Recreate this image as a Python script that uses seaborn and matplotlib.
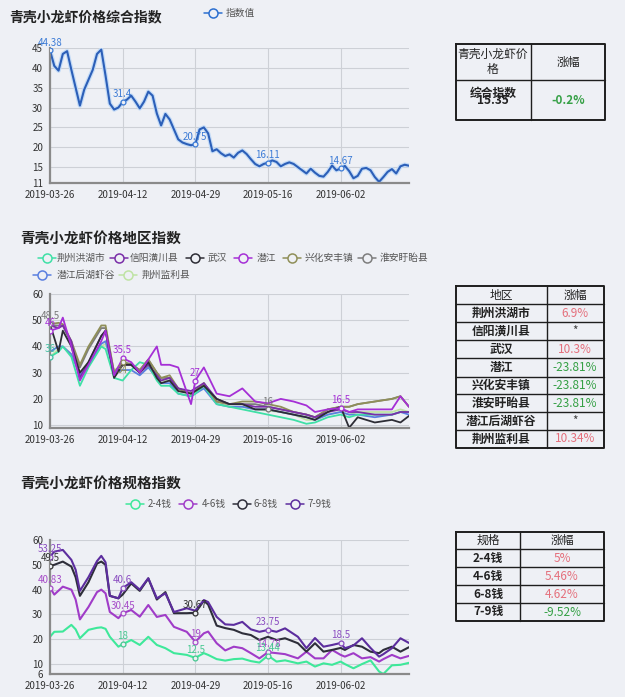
import numpy as np
import pandas as pd
import matplotlib
matplotlib.use('Agg')
import matplotlib.pyplot as plt
import seaborn as sns

sns.set_style('white')
plt.rcParams['font.family'] = ['Noto Sans CJK SC', 'DejaVu Sans']
plt.rcParams['axes.unicode_minus'] = False

BG = '#eef0f5'

# ---------------- data ----------------
dates = [d.strftime('%Y-%m-%d') for d in pd.date_range('2019-03-26', periods=85)]
tick_idx = [0, 17, 34, 51, 68]

composite_values = [44.38, 40.5, 39.3, 43.5, 44.2, 39.5, 35, 30.5, 34.5, 37,
                    39.5, 43.5, 44.6, 38, 31, 29.5, 30, 31.4, 32, 33,
                    31.5, 29.8, 31.5, 34, 33, 28.5, 25.5, 28.4, 27, 24.5,
                    22, 21.2, 20.8, 20.5, 20.75, 24.5, 25, 23.5, 19, 19.5,
                    18.5, 17.8, 18.2, 17.4, 18.6, 19.2, 18.3, 17, 15.8, 15.2,
                    15.8, 16.11, 16.7, 16.3, 15.2, 15.8, 16.2, 15.8, 15, 14.2,
                    13.4, 14.6, 13.6, 12.8, 12.6, 13.8, 15.4, 14.2, 14.67, 15.3,
                    14, 12.2, 12.8, 14.6, 14.8, 14.2, 12.5, 11.3, 12.5, 13.8,
                    14.5, 13.4, 15.2, 15.6, 15.35]

region_idx = [0, 2, 3, 5, 7, 9, 12, 13, 15, 17, 19, 21, 23, 25, 26, 28, 30, 33, 34, 36,
              39, 42, 45, 48, 51, 54, 57, 60, 62, 65, 68, 70, 72, 76, 80, 82, 84]
region_names = ['荆州洪湖市', '信阳潢川县', '武汉', '潜江', '兴化安丰镇', '淮安盱眙县', '潜江后湖虾谷', '荆州监利县']
honghu = [36, 38, 40, 36, 25, 32, 40, 39, 28, 27, 31, 34, 33, 27, 25, 25, 22, 21, 22, 25,
          18, 17, 16, 15, 14, 13, 12, 10.5, 11, 13, 14, 13, 14, 14, 14, 15, 15]
xinyang = [48, 47, 48, 42, 28, 34, 44, 46, 29, 33, 33, 30, 33, 29, 27, 28, 24, 23, 24, 26,
           20, 18, 18, 17, 17, 16, 15, 14, 13, 15, 16, 15, 15, 14, 14, 15, 15]
wuhan = [48.5, 38, 46, 40, 30, 34, 44, 46, 28, 33, 33, 30, 34, 28, 26, 27, 23, 22, 23, 25,
         20, 18, 18, 16, 16, 15, 14, 13, 12, 15, 17, 9, 13, 11, 12, 11, 13.5]
qianjiang = [46, 47, 51, 40, 27, 33, 42, 46, 29, 35.5, 34, 30, 35, 40, 33, 33, 32, 18, 27, 32,
             22, 21, 24, 19, 18.33, 20, 19, 17.5, 15, 16, 16.5, 15, 16, 16, 16, 21, 17]
xinghua = [48.5, 49, 48.5, 42, 33, 40, 48, 48, 30, 34, 33, 31, 35, 30, 28, 29, 24, 22, 23, 26,
           19, 18, 19, 19, 18, 17, 15, 14, 13, 16, 17, 17, 18, 19, 20, 21, 17]
huaian = [48, 48, 48, 41, 32, 39, 47, 47, 30, 34, 33.33, 31, 35, 30, 28, 28, 24, 22, 23, 26,
          19, 18, 18, 18, 17, 16, 15, 14, 13, 16, 17, 17, 18, 19, 20, 21, 17]
houhu = [38, 40, 40, 37, 29, 33, 41, 42, 30, 31, 31, 29, 32, 28, 26, 26, 22, 21, 22, 24,
         18, 17, 17, 16, 16, 15, 14, 13, 12, 14, 15, 14, 14, 13, 14, 15, 14]
jianli = [36, 39, 40, 37, 30, 34, 40, 41, 31, 33, 33, 30, 33, 28, 27, 27, 23, 22, 23, 25,
          19, 17, 17, 16, 15.5, 15, 14, 12, 12, 14, 15, 14, 15, 15, 15, 16, 15]

spec_idx = [0, 1, 3, 5, 6, 7, 9, 11, 12, 13, 14, 16, 17, 19, 21, 23, 25, 27, 29, 32,
            34, 36, 37, 39, 41, 43, 45, 47, 49, 51, 53, 55, 58, 60, 62, 64, 66, 68, 69, 71,
            73, 75, 77, 78, 80, 82, 84]
spec_names = ['2-4钱', '4-6钱', '6-8钱', '7-9钱']
s24 = [21, 23, 23.1, 25.8, 24, 20.4, 23.8, 24.6, 24.8, 24.2, 21, 17, 18, 19.7, 17.7, 21, 17.7, 16.4, 14.4, 13.7,
       12.5, 14.4, 13.7, 12, 11.4, 12, 12.2, 11.2, 10.6, 13.44, 11, 11.5, 10.3, 11, 9, 10.3, 9.7, 11, 10, 8.3,
       10, 11.5, 7, 6, 9.5, 9.7, 10.5]
s46 = [40.83, 38, 41.2, 40, 36, 28, 33, 39, 40, 38.5, 31, 28.5, 30.45, 31.8, 29.1, 33.8, 29, 29.8, 25, 23,
       19, 22.4, 23.1, 18.4, 15.5, 17, 16.4, 14.4, 12.3, 14.78, 14.4, 14, 12.3, 15, 12.3, 12.3, 15.7, 13.7, 13, 14.4,
       12.3, 12.8, 11, 12, 13.7, 12.3, 13.3]
s68 = [49.5, 50, 51.3, 49.3, 45, 37.5, 43, 50.5, 51.3, 50, 37.5, 36.5, 38, 42.5, 39.5, 44.5, 36, 39, 30.5, 30.5,
       30.67, 35.5, 34, 25.5, 24.5, 23.8, 22.4, 21.7, 19.7, 21, 19.7, 20.4, 18.4, 15, 18.4, 15, 15.7, 16.5, 15.7, 17.7,
       17, 15, 14.4, 15.7, 17, 15, 16.8]
s79 = [53.25, 55.3, 56, 52, 48, 39.5, 45, 51.5, 53.6, 51, 37.5, 36.5, 40.6, 43, 40, 44.6, 36.5, 38.5, 31, 32.5,
       31.5, 35.8, 35, 29, 26, 25.8, 27, 24, 23, 23.75, 23, 24.4, 21, 16.4, 20.5, 17, 17.7, 18.5, 16.4, 17.5,
       20.4, 16.5, 13, 14, 16.4, 20.4, 18.5]

table1_header = ['青壳小龙虾价\n格', '涨幅']
table1_name = '综合指数'
table1_value = '15.35'
table1_change = '-0.2%'
table2_names = ['荆州洪湖市', '信阳潢川县', '武汉', '潜江', '兴化安丰镇', '淮安盱眙县', '潜江后湖虾谷', '荆州监利县']
table2_changes = ['6.9%', '*', '10.3%', '-23.81%', '-23.81%', '-23.81%', '*', '10.34%']
table3_names = ['2-4钱', '4-6钱', '6-8钱', '7-9钱']
table3_changes = ['5%', '5.46%', '4.62%', '-9.52%']

# ---------------- styles ----------------
region_colors = ['#3fe0a6', '#7a2ea8', '#2d2d35', '#a52fd6', '#8f8f58', '#7d7d7d', '#5a7fe0', '#bfe3a4']
spec_colors = ['#3ee89a', '#a03cc8', '#2e2e3a', '#5c2d9e']
RED = '#e5707c'
GREEN = '#35a045'

W, H = 625, 697
fig = plt.figure(figsize=(W / 100, H / 100), dpi=100, facecolor=BG)


def px_axes(x0, x1, ytop, ybot):
    return fig.add_axes([x0 / W, 1 - ybot / H, (x1 - x0) / W, (ybot - ytop) / H])


def style(ax, ylim, yticks):
    ax.set_facecolor(BG)
    ax.set_xlim(0, 84)
    ax.set_ylim(*ylim)
    ax.set_yticks(yticks)
    ax.set_xticks(tick_idx)
    ax.set_xticklabels([dates[i] for i in tick_idx])
    ax.grid(True, color='#cdd0d6', lw=0.8)
    ax.set_axisbelow(True)
    for s in ['top', 'right']:
        ax.spines[s].set_visible(False)
    for s in ['left', 'bottom']:
        ax.spines[s].set_color('#8a8a8a')
        ax.spines[s].set_linewidth(1.6)
    ax.tick_params(labelsize=7, colors='#333333', length=3, width=1, pad=2)
    ax.tick_params(axis='both', color='#8a8a8a')
    ax.set_xlabel('')
    ax.set_ylabel('')


def label_pts(ax, xs, ys, which, color, dy=2):
    for i in which:
        k = list(xs).index(i)
        v = ys[k]
        ax.plot(i, v, 'o', ms=3.5, mfc=BG, mec=color, mew=0.9, zorder=5)
        ax.annotate(f'{v:g}', (i, v), xytext=(0, dy), textcoords='offset points',
                    ha='center', va='bottom', fontsize=7, color=color, zorder=6)


# ---------------- panel 1 ----------------
ax1 = px_axes(50, 409, 48, 183)
x1 = list(range(85))
sns.lineplot(x=x1, y=composite_values, ax=ax1, color='#c3dbf7', lw=3.2, legend=False)
sns.lineplot(x=x1, y=composite_values, ax=ax1, color='#2c5fb8', lw=1.5, legend=False)
style(ax1, (11, 45), [11, 15, 20, 25, 30, 35, 40, 45])
label_pts(ax1, x1, composite_values, tick_idx, '#3c7bd6')

# ---------------- panel 2 ----------------
ax2 = px_axes(50, 409, 294, 428)
region_series = [honghu, xinyang, wuhan, qianjiang, xinghua, huaian, houhu, jianli]
order = [7, 6, 0, 5, 4, 1, 2, 3]
for k in order:
    sns.lineplot(x=region_idx, y=region_series[k], ax=ax2, color=region_colors[k], lw=1.3, legend=False)
style(ax2, (8.9, 60), [10, 20, 30, 40, 50, 60])
label_pts(ax2, region_idx, wuhan, [0], '#777777')
label_pts(ax2, region_idx, qianjiang, [0, 17, 34, 68], '#a52fd6')
label_pts(ax2, region_idx, honghu, [0], '#3fbfa0')
label_pts(ax2, region_idx, huaian, [17], '#8f8f58', dy=-9)
label_pts(ax2, region_idx, wuhan, [51], '#777777')

# ---------------- panel 3 ----------------
ax3 = px_axes(50, 409, 540, 674)
spec_series = [s24, s46, s68, s79]
for k in range(4):
    sns.lineplot(x=spec_idx, y=spec_series[k], ax=ax3, color=spec_colors[k], lw=1.5, legend=False)
style(ax3, (6, 60), [6, 10, 20, 30, 40, 50, 60])
label_pts(ax3, spec_idx, s79, [0, 17, 51, 68], '#8a4cc0')
label_pts(ax3, spec_idx, s68, [0, 34], '#333333')
label_pts(ax3, spec_idx, s46, [0, 17, 34, 51], '#a64cc8')
label_pts(ax3, spec_idx, s24, [17, 34, 51], '#45c890')

# ---------------- overlay: titles, legends, tables ----------------
ov = fig.add_axes([0, 0, 1, 1], zorder=10)
ov.set_xlim(0, W)
ov.set_ylim(H, 0)
ov.axis('off')
ov.patch.set_alpha(0)

ov.text(9, 17, '青壳小龙虾价格综合指数', fontsize=10, fontweight='bold', color='#222222', va='center')
ov.text(20, 238, '青壳小龙虾价格地区指数', fontsize=10.5, fontweight='bold', color='#222222', va='center')
ov.text(20, 484, '青壳小龙虾价格规格指数', fontsize=10.5, fontweight='bold', color='#222222', va='center')


def legend_item(cx, y, color, text, tx):
    ov.plot([cx - 9, cx + 9], [y, y], color=color, lw=1.1)
    ov.plot(cx, y, 'o', ms=6.5, mfc=BG, mec=color, mew=1.1)
    ov.text(tx, y, text, fontsize=7, color='#555555', va='center')


legend_item(213, 12.5, '#2c6fd0', '指数值', 226)

leg2_pos = [(46.7, 258, 57), (119, 258, 130), (195, 258, 208), (243, 258, 257),
            (292, 258, 305), (367, 258, 380), (42, 275, 57), (128, 275, 142)]
for k, (cx, y, tx) in enumerate(leg2_pos):
    legend_item(cx, y, region_colors[k], region_names[k], tx)

leg3_pos = [(135, 148), (188, 202), (242, 253), (295, 307)]
for k, (cx, tx) in enumerate(leg3_pos):
    legend_item(cx, 504, spec_colors[k], spec_names[k], tx)


def grid_table(x0, x1, colx, rows):
    lc = '#1e1e1e'
    ov.plot([x0, x1, x1, x0, x0], [rows[0], rows[0], rows[-1], rows[-1], rows[0]], color=lc, lw=1.4)
    ov.plot([colx, colx], [rows[0], rows[-1]], color=lc, lw=1.0)
    for r in rows[1:-1]:
        ov.plot([x0, x1], [r, r], color=lc, lw=1.0)


# table 1
grid_table(455.7, 605, 530.7, [44.3, 80, 120])
ov.text(493, 62, table1_header[0], fontsize=8.5, ha='center', va='center', color='#222222', linespacing=1.2)
ov.text(568, 62, table1_header[1], fontsize=8.5, ha='center', va='center', color='#222222')
ov.text(493, 93, table1_name, fontsize=8.5, ha='center', va='center', color='#222222', fontweight='bold')
ov.text(493, 100, table1_value, fontsize=8.5, ha='center', va='center', color='#222222', fontweight='bold')
ov.text(568, 100, table1_change, fontsize=8.5, ha='center', va='center', color=GREEN, fontweight='bold')

# table 2
rows2 = [286, 304.3, 322.3, 340.3, 358.3, 376.7, 394.3, 412.3, 430, 448]
grid_table(455.7, 604, 546.7, rows2)
ov.text(501, (rows2[0] + rows2[1]) / 2, '地区', fontsize=8.5, ha='center', va='center', color='#222222')
ov.text(575, (rows2[0] + rows2[1]) / 2, '涨幅', fontsize=8.5, ha='center', va='center', color='#222222')
for k, (n, c) in enumerate(zip(table2_names, table2_changes)):
    yc = (rows2[k + 1] + rows2[k + 2]) / 2
    ov.text(501, yc, n, fontsize=8.5, ha='center', va='center', color='#222222', fontweight='bold')
    col = '#444444' if c == '*' else (GREEN if c.startswith('-') else RED)
    ov.text(575, yc, c, fontsize=8.5, ha='center', va='center', color=col)

# table 3
rows3 = [531.7, 549.3, 567.3, 585.3, 603.3, 620.7]
grid_table(455.7, 604.3, 520, rows3)
ov.text(488, (rows3[0] + rows3[1]) / 2, '规格', fontsize=8.5, ha='center', va='center', color='#222222')
ov.text(562, (rows3[0] + rows3[1]) / 2, '涨幅', fontsize=8.5, ha='center', va='center', color='#222222')
for k, (n, c) in enumerate(zip(table3_names, table3_changes)):
    yc = (rows3[k + 1] + rows3[k + 2]) / 2
    ov.text(488, yc, n, fontsize=8.5, ha='center', va='center', color='#222222', fontweight='bold')
    ov.text(562, yc, c, fontsize=8.5, ha='center', va='center', color=GREEN if c.startswith('-') else RED)

fig.savefig('out.png', dpi=100, facecolor=BG)
